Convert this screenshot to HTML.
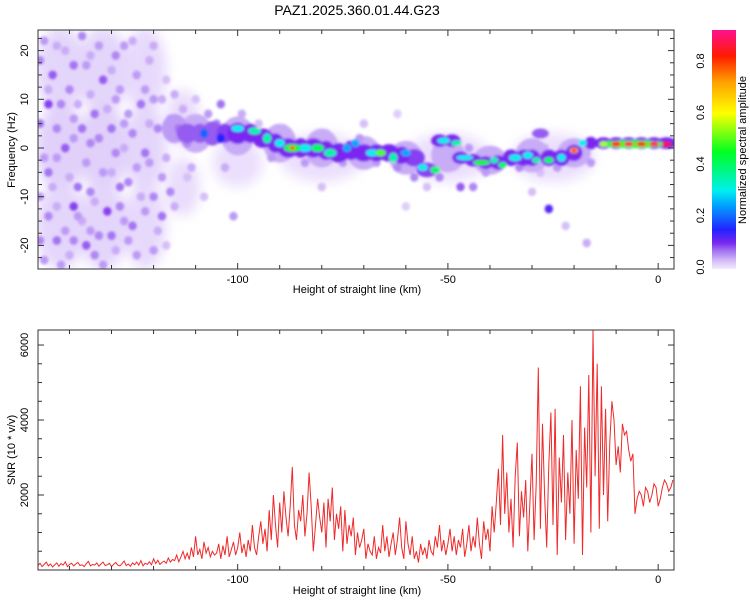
<!DOCTYPE html>
<html><head><meta charset="utf-8"><style>
html,body{margin:0;padding:0;background:#fff;}
svg{display:block;font-family:"Liberation Sans",sans-serif;}
</style></head><body>
<svg id="chart" width="750" height="600" viewBox="0 0 750 600">
<defs>
<filter id="blur" x="-50%" y="-50%" width="200%" height="200%"><feGaussianBlur stdDeviation="1.3"/></filter>
<filter id="blur2" x="-50%" y="-50%" width="200%" height="200%"><feGaussianBlur stdDeviation="6"/></filter>
<clipPath id="clipTop"><rect x="38" y="30" width="636" height="239"/></clipPath>
<clipPath id="clipBot"><rect x="38" y="330" width="636" height="240"/></clipPath>
<linearGradient id="cbar" x1="0" y1="1" x2="0" y2="0"></linearGradient>
</defs>
<text x="357" y="15" font-size="14" text-anchor="middle" fill="#000">PAZ1.2025.360.01.44.G23</text>
<g clip-path="url(#clipTop)"><g id="base" filter="url(#blur2)"></g><g id="spec" filter="url(#blur)"></g></g>
<g id="snr" clip-path="url(#clipBot)"></g>
<g id="axes"></g>
<text x="357" y="293" font-size="11" text-anchor="middle">Height of straight line (km)</text>
<text x="357" y="594" font-size="11" text-anchor="middle">Height of straight line (km)</text>
<text transform="translate(15,150) rotate(-90)" font-size="11" text-anchor="middle">Frequency (Hz)</text>
<text transform="translate(15,450) rotate(-90)" font-size="11" text-anchor="middle">SNR (10 * v/v)</text>
<rect x="712" y="30" width="24" height="239" fill="url(#cbar)"/>
<text transform="translate(746,150) rotate(-90)" font-size="11" text-anchor="middle">Normalized spectral amplitude</text>
</svg>
<script>
const xTicks=[-100,-50,0];
const freqTicks=[-20,-10,0,10,20];
const snrTicks=[2000,4000,6000];
const cbarTicks=[0.0,0.2,0.4,0.6,0.8];
const snrStart=-147.5, snrStep=0.5;
const snrValues=[120,180,90,150,210,110,160,80,140,190,100,170,130,220,90,150,180,110,160,200,120,140,90,170,230,110,150,130,190,100,160,210,120,140,180,90,150,200,130,110,170,240,120,160,100,190,140,210,130,250,110,180,150,220,140,300,170,260,150,200,240,180,320,210,280,
250,400,220,350,500,300,450,280,600,350,900,400,550,300,750,450,600,350,500,400,
450,700,300,650,400,900,350,550,750,400,600,1000,450,700,350,800,500,1200,600,400,
900,1300,700,1100,500,1600,800,2000,1200,600,
1800,1000,2100,1400,900,1700,2750,1200,800,1600,1300,2000,900,1500,2600,1700,500,1200,1900,1400,
1000,1800,600,1900,1300,2200,800,1500,1100,1700,500,1600,700,1200,900,1400,400,1000,600,800,
1100,300,700,500,400,900,300,600,450,1200,500,900,350,700,1000,400,800,1400,600,300,
1300,700,400,900,300,500,200,700,400,600,300,800,500,400,900,600,1200,500,800,400,
700,1100,500,900,400,800,600,1100,350,700,1200,500,900,600,1400,700,300,1300,800,1100,
500,1700,1000,1800,2700,1200,3600,1500,2600,1000,
1900,600,2500,3400,900,2100,1400,2400,500,1800,
3100,800,2300,5400,1100,3900,2000,600,2800,4200,
1200,4300,400,3000,1800,3600,800,2600,1500,4000,
700,3200,1900,4900,400,3800,2200,5200,1000,6400,
2500,5500,1100,4900,2000,4300,1300,3400,4500,4000,
2800,3300,2600,3900,3600,3700,3200,2900,3100,1500,
1900,2100,2000,1700,2200,2100,1800,2000,2300,2200,1700,1900,2200,2400,2300,2100,2200,2400];
// faint base field: [km, Hz, amplitude, radiusKm, radiusHz]
const baseBlobs=[[-142,16,0.015,6,9],[-142,0,0.018,6,9],[-142,-16,0.015,6,9],[-132,16,0.015,6,9],[-132,0,0.018,6,9],[-132,-16,0.015,6,9],[-122,16,0.012,5,9],[-122,0,0.015,5,9],[-122,-16,0.012,5,9],[-113,6,0.01,4,6],[-113,-8,0.01,4,6],[-100,-3,0.008,6,5],[-80,-2,0.008,10,5],[-50,-2,0.008,10,5],[-25,-2,0.008,10,5]];
// background noise blobs: [km, Hz, amplitude]
const noiseBlobs=[[-146,22,0.05],[-144,15,0.08],[-145,9,0.09],[-143,4,0.06],[-146,-2,0.05],[-144,-8,0.04],[-145,-14,0.06],[-143,-19,0.07],[-146,-23,0.05],
[-141,20,0.04],[-140,12,0.06],[-139,6,0.05],[-141,0,0.08],[-140,-6,0.04],[-139,-12,0.09],[-141,-17,0.05],[-140,-22,0.04],
[-137,23,0.06],[-136,17,0.05],[-135,11,0.04],[-137,4,0.07],[-136,-3,0.05],[-135,-9,0.06],[-137,-15,0.04],[-136,-20,0.08],
[-133,21,0.05],[-132,14,0.08],[-131,8,0.04],[-133,2,0.06],[-132,-5,0.05],[-131,-13,0.09],[-133,-18,0.06],[-132,-24,0.05],
[-129,19,0.06],[-128,12,0.05],[-127,5,0.05],[-129,-1,0.06],[-128,-8,0.07],[-127,-15,0.05],[-129,-21,0.04],
[-125,22,0.04],[-124,15,0.05],[-123,9,0.07],[-125,3,0.06],[-124,-4,0.05],[-123,-10,0.04],[-125,-16,0.07],[-124,-22,0.05],
[-121,18,0.04],[-120,10,0.05],[-119,4,0.06],[-121,-3,0.05],[-120,-10,0.06],[-119,-17,0.04],
[-117,14,0.03],[-116,6,0.05],[-117,-2,0.04],[-116,-9,0.06],[-117,-20,0.03],
[-147,18,0.06],[-147,5,0.07],[-147,-10,0.05],[-147,-19,0.06],[-145,12,0.04],[-145,-5,0.07],[-143,21,0.04],[-143,-2,0.05],[-143,-12,0.04],[-142,9,0.06],[-142,-24,0.05],
[-139,17,0.07],[-139,2,0.05],[-139,-19,0.06],[-138,9,0.04],[-138,-8,0.07],[-138,-14,0.05],[-135,19,0.04],[-135,1,0.06],[-135,-17,0.05],[-134,7,0.07],[-134,-11,0.04],[-134,-22,0.06],
[-130,16,0.04],[-130,4,0.07],[-130,-5,0.04],[-130,-18,0.07],[-129,10,0.05],[-128,-12,0.06],[-127,21,0.05],[-127,0,0.04],[-126,-7,0.06],[-126,-19,0.05],[-126,7,0.05],
[-122,12,0.05],[-122,-1,0.07],[-122,-13,0.05],[-121,5,0.04],[-120,21,0.04],[-120,-21,0.05],[-118,10,0.04],[-118,-6,0.05],[-118,-14,0.07],[-115,11,0.04],[-115,-12,0.04],[-114,4,0.07],[-112,1,0.06],[-111,-4,0.04],
[-113,8,0.04],[-112,-6,0.03],[-110,10,0.03],[-108,-10,0.03],[-104,9,0.07],[-101,-14,0.05],[-95,5,0.03],[-70,5,0.03],[-62,7,0.02],[-55,-8,0.03],[-47,-8,0.08],[-44,-8,0.06],[-30,-9,0.03],[-26,-12.5,0.12],[-22,-16,0.03],[-17,-19.5,0.04],[-28,-5,0.03],[-60,-12,0.02],[-80,-8,0.03],
[-107,7,0.05],[-105,5,0.06],[-103,-4,0.04],[-99,7,0.04],[-92,-2,0.05],[-89,4,0.04],[-84,-3,0.05],[-79,3,0.04],[-75,-3,0.05],[-71,2,0.05],[-67,-3,0.05],[-62,-4,0.06],[-58,-6,0.06],[-52,-6,0.06],[-45,0,0.05],[-41,-5,0.05],[-33,-4,0.06],[-27,0,0.04],[-24,-4,0.05],[-16,-3,0.05]];
// ridge blobs: [km, Hz, amplitude, radiusKm, radiusHz]
const ridgeBlobs=[[-110,3,0.04,4,4],[-100,2.5,0.04,4,4],[-90,1,0.04,4,4],[-80,0,0.04,4,4],[-70,-1,0.04,4,3.5],[-60,-2,0.04,4,3.5],[-50,-1.5,0.04,4,3.5],[-40,-2.5,0.04,4,3],[-30,-1.5,0.04,4,3.5],[-20,-1,0.04,4,3],
[-115,4,0.05,3,3],[-112,3,0.08,2.5,2],[-109,3,0.08,2,2],[-106,3,0.08,2.5,2.5],[-103,3,0.09,2,2],[-100,3,0.1,2.5,2.2],[-97,3,0.1,2,2],[-94,2,0.1,2.5,2],[-91,1,0.1,2,2],[-88,0,0.1,2.5,2],[-85,0,0.1,2,2],[-82,0,0.1,2.5,2],[-79,-0.5,0.1,2,2],[-76,-1,0.1,2.5,2],[-73,-0.5,0.1,2,2],[-70,-1,0.1,2.5,1.8],[-67,-1,0.1,2,1.8],[-64,-1,0.1,2.5,1.8],[-61,-1.5,0.1,2,1.8],[-58,-2,0.09,2.5,1.8],[-55,-4.5,0.09,2.5,1.5],[-52,1.5,0.1,2,1.3],[-49,1.5,0.1,2,1.3],[-47,-2,0.1,2,1.3],[-44,-2.5,0.1,2,1.3],[-41,-3,0.1,2,1.3],[-38,-3,0.1,2,1.5],[-35,-2,0.1,2,1.7],[-32,-2,0.1,2,1.7],[-30,-2,0.1,2,1.7],[-28,3,0.08,2,1],[-26,-2,0.1,2,1.7],[-23,-2,0.1,2,1.7],[-20,-1,0.1,2,1.7],[-16,1,0.1,1.5,1.3],[-13,1,0.1,2,1.2],[-10,1,0.1,2,1.2],[-7,1,0.1,2,1.2],[-4,1,0.1,2,1.2],[-1,1,0.1,2,1.2],[2,1,0.1,2.5,1.2],
[-108,3,0.2,1,1],[-104,2,0.15,1,1],[-100,4,0.3,1.5,0.7],[-96,3.5,0.35,1.5,0.7],[-93,2,0.35,1,1],[-90,1,0.3,1.2,0.8],[-87,0,0.45,2,0.8],[-84,0,0.3,1.5,0.8],[-81,0,0.4,1.5,0.8],[-78,-1,0.35,1.5,0.8],[-74,0,0.25,1,0.8],[-72,1,0.25,1,0.8],[-68,-1,0.3,1.5,0.7],[-66,-1,0.5,1.2,0.7],[-63,-2,0.35,1,1],[-60,-1,0.25,1.2,0.7],[-56,-4,0.3,1.2,0.7],[-53,-4.5,0.4,1.2,0.7],[-51,1.5,0.3,1.5,0.6],[-48,1,0.35,1.2,0.6],[-46,-2,0.3,2,0.5],[-42,-3,0.45,2,0.5],[-39,-2.5,0.35,1,0.6],[-37,-3.5,0.4,1,0.6],[-34,-2,0.3,1.5,0.7],[-31,-1.5,0.3,1.2,0.7],[-29,-2.5,0.35,1,0.6],[-26,-2.5,0.4,1.2,0.6],[-23,-2,0.3,1,0.8],[-20,-0.5,0.7,1,0.6],[-18,1,0.3,1,0.7],
[-6,0.8,0.45,8,0.8],[-13,0.8,0.55,1,0.6],[-10,0.8,0.85,1.2,0.5],[-7,0.8,0.9,1.2,0.5],[-4,0.8,0.85,1.2,0.5],[-1,0.8,0.9,1.2,0.5],[2,0.8,0.85,1.2,0.5],[-87,0,0.85,0.6,0.4],[-20,-0.5,0.85,0.5,0.4]];
const cmapStops=[[0,'#f2eaff'],[0.03,'#d6bff7'],[0.07,'#a274f2'],[0.1,'#7a28f0'],[0.15,'#2222ff'],[0.25,'#00a8ff'],[0.3,'#00f0f0'],[0.45,'#00ff20'],[0.6,'#ffff00'],[0.72,'#ffa000'],[0.82,'#ff1a00'],[0.93,'#ff1090']];

const NS='http://www.w3.org/2000/svg';
const X0=37.5, XPX=4.205, XKM0=-147.6;
const xs=km=>X0+(km-XKM0)*XPX;
const yf=hz=>148-hz*4.87;
const ys=v=>570-v/26.67;
const yc=a=>267-a*257.5;
function hex(c){return [1,3,5].map(i=>parseInt(c.substr(i,2),16));}
function cmap(a){
  for(let i=1;i<cmapStops.length;i++){
    if(a<=cmapStops[i][0]){const [a0,c0]=cmapStops[i-1],[a1,c1]=cmapStops[i];const t=(a-a0)/(a1-a0);const p=hex(c0),q=hex(c1);return 'rgb('+p.map((v,k)=>Math.round(v+(q[k]-v)*t)).join(',')+')';}
  }
  return cmapStops[cmapStops.length-1][1];
}
const grad=document.getElementById('cbar');
cmapStops.forEach(s=>{const st=document.createElementNS(NS,'stop');st.setAttribute('offset',(s[0]/0.92*100)+'%');st.setAttribute('stop-color',s[1]);grad.appendChild(st);});

function blob(g,b){
  const e=document.createElementNS(NS,'ellipse');
  e.setAttribute('cx',xs(b[0]));e.setAttribute('cy',yf(b[1]));
  e.setAttribute('rx',b[3]*XPX);e.setAttribute('ry',b[4]*4.87);
  e.setAttribute('fill',cmap(b[2]));
  
  
  g.appendChild(e);
}
const baseG=document.getElementById('base');
baseBlobs.forEach(b=>blob(baseG,b));
const spec=document.getElementById('spec');
noiseBlobs.map(b=>[b[0],b[1],b[2],1,0.9]).concat(ridgeBlobs).sort((a,b)=>a[2]-b[2]).forEach(b=>blob(spec,b));

const snr=document.getElementById('snr');
const pts=snrValues.map((v,i)=>xs(snrStart+i*snrStep).toFixed(1)+','+ys(v).toFixed(1)).join(' ');
const pl=document.createElementNS(NS,'polyline');
pl.setAttribute('points',pts);pl.setAttribute('fill','none');pl.setAttribute('stroke','#ee2a2a');pl.setAttribute('stroke-width','1');


snr.appendChild(pl);

const axes=document.getElementById('axes');
function line(x1,y1,x2,y2){const l=document.createElementNS(NS,'line');l.setAttribute('x1',x1);l.setAttribute('y1',y1);l.setAttribute('x2',x2);l.setAttribute('y2',y2);l.setAttribute('stroke','#333');l.setAttribute('stroke-width','1');


axes.appendChild(l);}
function text(x,y,s,rot,anchor){const t=document.createElementNS(NS,'text');t.setAttribute('font-size','11');t.setAttribute('text-anchor',anchor||'middle');
if(rot){t.setAttribute('transform','translate('+x+','+y+') rotate(-90)');}else{t.setAttribute('x',x);t.setAttribute('y',y);}
t.textContent=s;


axes.appendChild(t);}
[[30,269],[330,570]].forEach(([t,b])=>{
  const r=document.createElementNS(NS,'rect');r.setAttribute('x',38);r.setAttribute('y',t);r.setAttribute('width',636);r.setAttribute('height',b-t);r.setAttribute('fill','none');r.setAttribute('stroke','#333');
  
  
  axes.appendChild(r);
  for(let km=-140;km<=0;km+=10){const x=xs(km);const L=km%50===0?6:4;line(x,b,x,b-L);line(x,t,x,t+L);}
});
xTicks.forEach(k=>{text(xs(k),283,String(k));text(xs(k),583,String(k));});
for(let hz=-22.5;hz<=22.5;hz+=2.5){const y=yf(hz);const L=hz%10===0?6:4;line(38,y,38+L,y);line(674,y,674-L,y);}
freqTicks.forEach(h=>text(28,yf(h),String(h),true));
for(let v=500;v<=6000;v+=500){const y=ys(v);const L=v%2000===0?6:4;line(38,y,38+L,y);line(674,y,674-L,y);}
snrTicks.forEach(v=>text(28,ys(v),String(v),true));
cbarTicks.forEach(a=>{text(704,yc(a),a.toFixed(1),true);line(712,yc(a),715,yc(a));});
</script>
</body></html>
